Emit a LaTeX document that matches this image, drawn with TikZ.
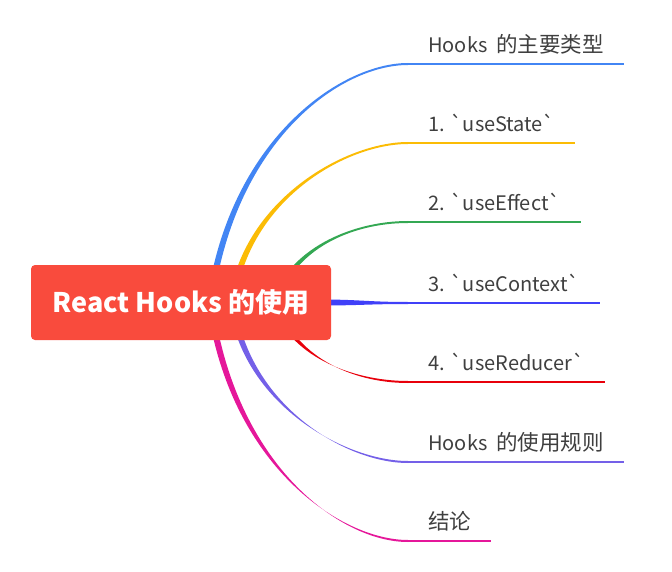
\documentclass[tikz,border=0pt]{standalone}
\usepackage{fontspec}
\setmainfont{Noto Sans CJK SC}[Ligatures=TeXOff]
\usetikzlibrary{calc,backgrounds}

\definecolor{rootred}{HTML}{F94B3D}
\definecolor{labelgray}{HTML}{3F3F3F}
\definecolor{cA}{HTML}{4285F4}
\definecolor{cB}{HTML}{FBBC05}
\definecolor{cC}{HTML}{34A853}
\definecolor{cD}{HTML}{4040F8}
\definecolor{cE}{HTML}{E8000B}
\definecolor{cF}{HTML}{7460E8}
\definecolor{cG}{HTML}{E5179A}

% chinese words in the topics are set a little larger
\newcommand\zh[1]{{\fontsize{21.5}{24}\selectfont#1}}

\begin{document}
\begin{tikzpicture}[x=1pt,y=-1pt,
  root/.style={fill=rootred, rounded corners=4pt, minimum width=300pt,
    minimum height=75pt, text=white, font=\bfseries\fontsize{27}{32}\selectfont},
  topic/.style={anchor=south west, inner xsep=20pt, inner ysep=0pt,
    text height=15pt, text depth=11pt, text=labelgray,
    font=\fontsize{20}{24}\selectfont}]
\useasboundingbox (0,0) rectangle (672,572);

\node[root] (root) at (181,302.5) {React Hooks 的使用};

\node[topic] (t1) at (408,64) {Hooks\hspace{9pt}\zh{的主要类型}};
\node[topic] (t2) at (408,143) {1. `useState`};
\node[topic] (t3) at (408,222) {2. `useEffect`};
\node[topic] (t4) at (408,303) {3. `useContext`};
\node[topic] (t5) at (408,382) {4. `useReducer`};
\node[topic] (t6) at (408,462) {Hooks\hspace{9pt}\zh{的使用规则}};
\node[topic] (t7) at (408,541) {\zh{结论}};

% tapered branches, behind the root
\begin{scope}[on background layer]
\foreach \n/\col/\sx/\dx/\dy/\cx/\cy/\bx in {
  1/cA/29/3.2/0/22/-162/68, 2/cB/51/3.2/0/13/-102/63,
  3/cC/94/3.2/0/15/-52/58, 4/cD/139/0/3/40/0/40,
  5/cE/94/3.2/0/15/52/58, 6/cF/51/3.2/0/13/102/63,
  7/cG/29/3.2/0/22/162/68}
{
  \coordinate (s) at ($(root.center)+(\sx,0)$);
  \coordinate (e) at (t\n.south west);
  \fill[\col] ($(s)+(-\dx,-\dy)$) .. controls ($(s)+(\cx-\dx,\cy-\dy)$) and ($(e)+(-\bx,-1)$) .. ($(e)+(0,-1)$)
    -- ($(e)+(0,1)$) .. controls ($(e)+(-\bx,1)$) and ($(s)+(\cx+\dx,\cy+\dy)$) .. ($(s)+(\dx,\dy)$) -- cycle;
  \draw[\col, line width=2] (t\n.south west) -- (t\n.south east);
}
\end{scope}
\end{tikzpicture}
\end{document}
